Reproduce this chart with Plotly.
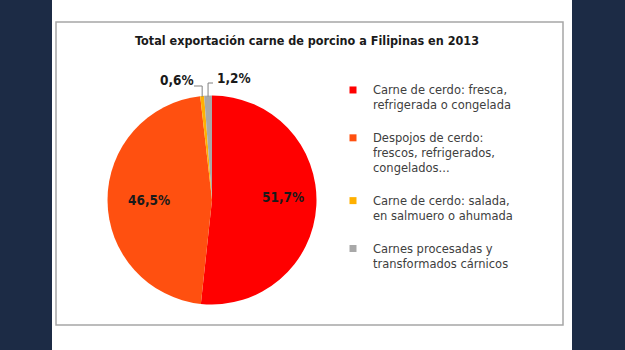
import math
import plotly.graph_objects as go

# ---- data ----
categories = [
    "Carne de cerdo: fresca,<br>refrigerada o congelada",
    "Despojos de cerdo:<br>frescos, refrigerados,<br>congelados...",
    "Carne de cerdo: salada,<br>en salmuero o ahumada",
    "Carnes procesadas y<br>transformados cárnicos",
]
values = [51.7, 46.5, 0.6, 1.2]
colors = ["#ff0000", "#ff5010", "#ffb000", "#a8a8a8"]
title_text = "Total exportación carne de porcino a Filipinas en 2013"

# ---- layout helpers (pixels from top-left) ----
W, H = 625, 350
CX, CY, R = 212, 200, 104.5
# label centre per slice; for outside labels also connector end point
label_xy = [(283, 197), (149, 200), (176.5, 80), (234, 78)]
connector_end = [None, None, (194, 86), (213, 83)]

FONT = "DejaVu Sans"
FONT_C = "DejaVu Sans Condensed, DejaVu Sans"

fig = go.Figure()
fig.add_trace(go.Pie(
    values=values,
    labels=categories,
    sort=False,
    direction="clockwise",
    rotation=0,
    marker=dict(colors=colors, line=dict(width=0)),
    textinfo="none",
    domain=dict(x=[(CX - R) / W, (CX + R) / W], y=[(H - CY - R) / H, (H - CY + R) / H]),
    showlegend=False,
    hoverinfo="label+percent",
))

# legend proxies (small squares like the original)
for cat, col in zip(categories, colors):
    fig.add_trace(go.Scatter(
        x=[None], y=[None], mode="markers", name=cat + "<br> ",
        marker=dict(symbol="square", size=7, color=col),
        showlegend=True,
    ))

# data labels (+ elbow connectors for the small outside ones)
total = sum(values)
cum = 0.0
for i, v in enumerate(values):
    mid = (cum + v / 2) / total * 2 * math.pi
    cum += v
    lx, ly = label_xy[i]
    fig.add_annotation(
        x=lx / W, y=1 - ly / H, xref="paper", yref="paper",
        xanchor="center", yanchor="middle",
        text="<b>%s%%</b>" % (("%.1f" % v).replace(".", ",")),
        showarrow=False, font=dict(family=FONT_C, size=13.5, color="#1a1a1a"),
    )
    if connector_end[i] is not None:
        ex, ey = connector_end[i]
        px = CX + R * math.sin(mid)
        py = CY - R * math.cos(mid)
        fig.add_shape(type="path", xref="paper", yref="paper",
                      path="M %f %f L %f %f L %f %f" % (px / W, 1 - (py + 1) / H,
                                                        px / W, 1 - ey / H,
                                                        ex / W, 1 - ey / H),
                      line=dict(color="#808080", width=1))

# white card and gray frame
fig.add_shape(type="rect", xref="paper", yref="paper", x0=52 / W, x1=572 / W, y0=0, y1=1,
              fillcolor="white", line=dict(width=0), layer="below")
fig.add_shape(type="rect", xref="paper", yref="paper", x0=56 / W, x1=563 / W,
              y0=1 - 325 / H, y1=1 - 22 / H,
              fillcolor="white", line=dict(color="#a6a6a6", width=1.5), layer="below")

fig.update_layout(
    width=W, height=H,
    margin=dict(l=0, r=0, t=0, b=0),
    paper_bgcolor="#1c2b45",
    plot_bgcolor="rgba(0,0,0,0)",
    separators=",.",
    xaxis=dict(visible=False),
    yaxis=dict(visible=False),
    title=dict(text="<b>" + title_text + "</b>", x=307 / W, xanchor="center",
               y=1 - 41 / H, yanchor="middle",
               font=dict(family=FONT_C, size=12.5, color="#1a1a1a")),
    legend=dict(x=333 / W, xanchor="left", y=1 - 76 / H, yanchor="top",
                bgcolor="rgba(0,0,0,0)", valign="top",
                font=dict(family=FONT, size=11.5, color="#404040"),
                itemclick=False),
    font=dict(family=FONT),
)

fig.write_html("out.html")
